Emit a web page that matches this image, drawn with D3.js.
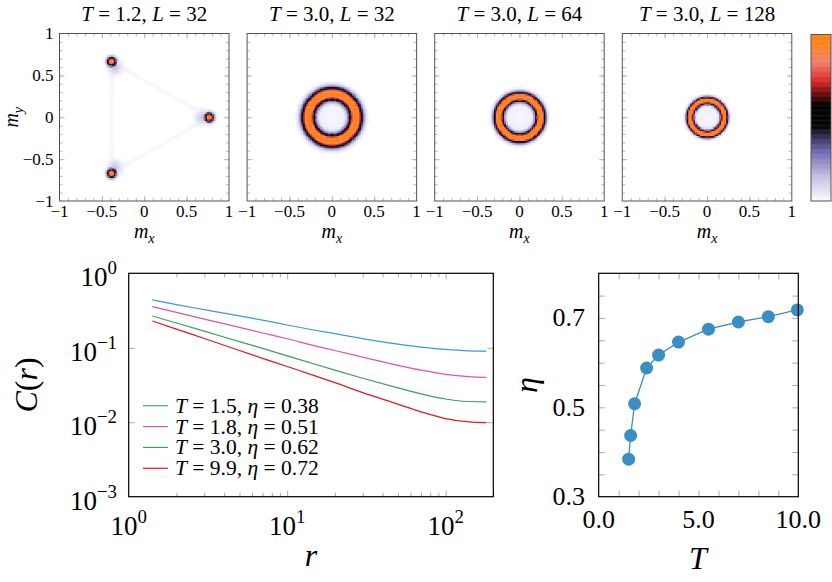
<!DOCTYPE html>
<html>
<head>
<meta charset="utf-8">
<script src="https://cdn.jsdelivr.net/npm/d3@7"></script>
</head>
<body style="margin:0">
<svg id="fig" width="832" height="582"></svg>
<script>
// ---------- data ----------
const panelTemps = ["1.2", "3.0", "3.0", "3.0"];
const panelSizes = ["32", "32", "64", "128"];
// ring panels (index 1..3): radius of the ring and its half width, in m units
const ringRadius = [0, 0.28, 0.245, 0.20];
const ringWidth = [0, 0.068, 0.05, 0.037];
// low temperature panel: three peaks
const peakX = [0.765, -0.385, -0.385];
const peakY = [0, 0.665, -0.665];
const peakWidth = 0.044;

const mTicks = [-1, -0.5, 0, 0.5, 1];

const rValues = [1.41, 2, 3, 5, 7, 10, 15, 20, 30, 50, 70, 100, 140, 181];
const corrT15 = [0.44, 0.38, 0.325, 0.268, 0.235, 0.202, 0.172, 0.155, 0.133, 0.112, 0.102, 0.095, 0.091, 0.090];
const corrT18 = [0.356, 0.298, 0.243, 0.188, 0.158, 0.132, 0.106, 0.092, 0.075, 0.058, 0.050, 0.044, 0.041, 0.040];
const corrT30 = [0.267, 0.215, 0.167, 0.121, 0.098, 0.078, 0.060, 0.050, 0.039, 0.029, 0.024, 0.0205, 0.019, 0.0188];
const corrT99 = [0.229, 0.178, 0.133, 0.092, 0.072, 0.056, 0.042, 0.034, 0.025, 0.0175, 0.0138, 0.0112, 0.0101, 0.0099];
const corrSeries = [corrT15, corrT18, corrT30, corrT99];
const legendT = ["1.5", "1.8", "3.0", "9.9"];
const legendEta = ["0.38", "0.51", "0.62", "0.72"];
const corrColors = ["#3d9ad1", "#e352a8", "#3f9f55", "#e31a1c"];
const rTicks = [1, 10, 100];
const cTicks = [1e-3, 1e-2, 1e-1, 1];

const tempValues = [1.5, 1.6, 1.8, 2.4, 3.0, 4.0, 5.5, 7.0, 8.5, 9.95];
const etaValues = [0.384, 0.437, 0.508, 0.588, 0.617, 0.646, 0.675, 0.691, 0.703, 0.718];
const tTicks = [0, 5, 10];
const etaTicks = [0.3, 0.5, 0.7];

// colour map of the histograms
const cmapStops = [0, 0.03, 0.15, 0.3, 0.38, 0.45, 0.58, 0.66, 0.72, 0.84, 0.93, 1];
const cmapColors = ["#fdfdff", "#f1f0f9", "#c4c0e0", "#7068b0", "#38345c", "#050508",
                    "#000000", "#801010", "#d82828", "#f08070", "#ff8428", "#ff8010"];
const cmap = d3.scaleLinear().domain(cmapStops).range(cmapColors).clamp(true);

const svg = d3.select("#fig");
const texts = svg.append("g").attr("id", "texts");

// a text straight on the svg, made of upright / italic / sub / sup pieces
function label(x, y, size, anchor, parts, rotate) {
    const t = svg.append("text")
        .attr("x", x).attr("y", y)
        .attr("font-size", size)
        .attr("text-anchor", anchor)
        .style("font-family", '"Liberation Serif"');
    if (rotate) t.attr("transform", `rotate(-90 ${x} ${y})`);
    parts.forEach(p => {
        const s = t.append("tspan").text(p[0]);
        if (p[1] === "i") s.attr("font-style", "italic");
        if (p[1] === "sub") s.attr("font-style", "italic").attr("font-size", size * 0.7).attr("dy", size * 0.25);
        if (p[1] === "sup") s.attr("font-size", size * 0.7).attr("dy", -size * 0.45);
    });
    return t;
}

// inward ticks on all four sides
function frameTicks(g, x, y, xv, yv, len, color) {
    const [x0, x1] = x.range(), [y0, y1] = y.range();
    const mk = (axis, tx, ty) => {
        const a = g.append("g").attr("transform", `translate(${tx},${ty})`).call(axis);
        a.select(".domain").remove();
        a.selectAll("text").remove();
        a.selectAll("line").attr("stroke", color).attr("stroke-width", 1);
    };
    if (xv.length) {
        mk(d3.axisTop(x).tickValues(xv).tickSize(len), 0, y0);
        mk(d3.axisBottom(x).tickValues(xv).tickSize(len), 0, y1);
    }
    if (yv.length) {
        mk(d3.axisRight(y).tickValues(yv).tickSize(len), x0, 0);
        mk(d3.axisLeft(y).tickValues(yv).tickSize(len), x1, 0);
    }
}

// ---------- top row: histograms ----------
function segDist(px, py, ax, ay, bx, by) {
    const dx = bx - ax, dy = by - ay;
    let t = ((px - ax) * dx + (py - ay) * dy) / (dx * dx + dy * dy);
    t = Math.max(0, Math.min(1, t));
    const len = Math.hypot(dx, dy);
    return { d: Math.hypot(px - ax - t * dx, py - ay - t * dy), s: Math.min(t, 1 - t) * len };
}

function profile(d, w) {
    return Math.exp(-Math.LN2 * Math.pow(d / w, 2.3));
}

function density(p, mx, my) {
    if (p > 0) {
        const r = Math.hypot(mx, my);
        const d = Math.abs(r - ringRadius[p]);
        let v = profile(d, ringWidth[p]);
        if (r < ringRadius[p]) v = Math.max(v, 0.045 * (0.3 + 0.7 * r / ringRadius[p]));
        return v;
    }
    let v = 0;
    for (let k = 0; k < 3; k++) {
        const d = Math.hypot(mx - peakX[k], my - peakY[k]);
        v = Math.max(v, profile(d, peakWidth));
        // soft halo towards the centre
        const dc = Math.hypot(mx - peakX[k] * 0.9, my - peakY[k] * 0.9);
        v = Math.max(v, 0.14 * Math.exp(-Math.pow(dc / 0.075, 2)));
        const n = (k + 1) % 3;
        const sd = segDist(mx, my, peakX[k], peakY[k], peakX[n], peakY[n]);
        v = Math.max(v, Math.exp(-Math.pow(sd.d / 0.03, 2)) * (0.015 + 0.12 * Math.exp(-sd.s / 0.08)));
    }
    return v;
}

const nBins = 100;
const binW = 2 / nBins;
const binStarts = d3.range(nBins).map(i => -1 + i * binW);

const panelW = 169.5, panelTop = 33.5, panelH = 167.5;
const panelLeft = d3.range(4).map(i => 59.5 + i * 187.6);
const minorM = d3.range(-9, 10).map(i => i / 10);
const fmtM = d3.format("~g");

panelLeft.forEach((left, p) => {
    const x = d3.scaleLinear().domain([-1, 1]).range([left, left + panelW]);
    const y = d3.scaleLinear().domain([-1, 1]).range([panelTop + panelH, panelTop]);
    const g = svg.append("g");

    const cells = [];
    binStarts.forEach(bx => binStarts.forEach(by => {
        const v = density(p, bx + binW / 2, by + binW / 2);
        if (v > 0.008) cells.push({ x0: bx, y0: by, v: Math.round(v * 120) / 120 });
    }));
    // one path per colour level keeps the page light
    const levels = d3.groups(cells, d => d.v);
    const cw = x(binW) - x(0) + 0.4, ch = y(0) - y(binW) + 0.4;
    g.append("g").selectAll("path").data(levels).join("path")
        .attr("d", ([, cs]) => cs.map(d => `M${x(d.x0).toFixed(2)},${y(d.y0 + binW).toFixed(2)}h${cw.toFixed(2)}v${ch.toFixed(2)}h${(-cw).toFixed(2)}z`).join(""))
        .attr("fill", ([v]) => cmap(v));

    frameTicks(g, x, y, minorM, minorM, 3, "#b8b8b8");
    frameTicks(g, x, y, [-0.5, 0, 0.5], [-0.5, 0, 0.5], 5, "#b8b8b8");
    g.append("rect").attr("x", left).attr("y", panelTop).attr("width", panelW).attr("height", panelH)
        .attr("fill", "none").attr("stroke", "#555").attr("stroke-width", 1);

    mTicks.forEach(v => label(x(v), 217, 17, "middle", [[fmtM(v)]]));
    if (p === 0) {
        mTicks.forEach(v => label(left - 6, y(v) + 5.5, 17, "end", [[fmtM(v)]]));
        label(18, panelTop + panelH / 2, 20, "middle", [["m", "i"], ["y", "sub"]], true);
    }
    label(left + panelW / 2, 238, 20, "middle", [["m", "i"], ["x", "sub"]]);
    label(left + panelW / 2, 20.5, 21, "middle",
        [["T", "i"], [" = " + panelTemps[p] + ", "], ["L", "i"], [" = " + panelSizes[p]]]);
});

// colour bar
const cbY = d3.scaleLinear().domain([0, 1]).range([201, 34.5]);
const cbSteps = d3.range(0, 1, 0.005);
svg.append("g").selectAll("rect").data(cbSteps).join("rect")
    .attr("x", 811).attr("width", 20)
    .attr("y", d => cbY(d + 0.005)).attr("height", cbY(0) - cbY(0.005) + 0.5)
    .attr("fill", d => cmap(d + 0.0025));
svg.append("rect").attr("x", 811).attr("y", 34.5).attr("width", 20).attr("height", 166.5)
    .attr("fill", "none").attr("stroke", "#555");

// ---------- bottom left: correlation functions ----------
const xr = d3.scaleLog().domain([1, 200]).range([128.7, 493.3]);
const yc = d3.scaleLog().domain([1e-3, 1]).range([496.7, 273.3]);
const gc = svg.append("g");

const minorR = [2, 3, 4, 5, 6, 7, 8, 9, 20, 30, 40, 50, 60, 70, 80, 90, 200];
frameTicks(gc, xr, yc, minorR, [], 4, "#a8a8a8");
frameTicks(gc, xr, yc, [10, 100], [1e-2, 1e-1], 6, "#a8a8a8");

const line = d3.line().x(d => xr(d[0])).y(d => yc(d[1])).curve(d3.curveMonotoneX);
corrSeries.forEach((s, i) => {
    gc.append("path").datum(rValues.map((r, k) => [r, s[k]]))
        .attr("d", line).attr("fill", "none").attr("stroke", corrColors[i]).attr("stroke-width", 1.2);
});

gc.append("rect").attr("x", 128.7).attr("y", 273.3).attr("width", 493.3 - 128.7).attr("height", 496.7 - 273.3)
    .attr("fill", "none").attr("stroke", "#000").attr("stroke-width", 1.2);

const expo = v => { const e = Math.round(Math.log10(v)); return e < 0 ? "\u2212" + (-e) : String(e); };
rTicks.forEach(v => label(xr(v), 535, 27, "middle", [["10"], [expo(v), "sup"]]));
cTicks.forEach(v => label(117, yc(v) + 13, 27, "end", [["10"], [expo(v), "sup"]]));

label(311, 566, 32, "middle", [["r", "i"]]);
label(37, 385, 32, "middle", [["C", "i"], ["("], ["r", "i"], [")"]], true);

// legend
const legY = d3.scalePoint().domain(d3.range(4)).range([405.7, 468.3]);
legendT.forEach((t, i) => {
    gc.append("line").attr("x1", 143).attr("x2", 168).attr("y1", legY(i)).attr("y2", legY(i))
        .attr("stroke", corrColors[i]).attr("stroke-width", 1.2);
    label(175, legY(i) + 7, 21.5, "start",
        [["T", "i"], [" = " + t + ", "], ["η", "i"], [" = " + legendEta[i]]]);
});

// ---------- bottom right: eta vs T ----------
const xt = d3.scaleLinear().domain([0, 10]).range([598.7, 798.3]);
const ye = d3.scaleLinear().domain([0.3, 0.8]).range([496.7, 273.3]);
const ge = svg.append("g");

frameTicks(ge, xt, ye, d3.range(1, 10), d3.range(0.35, 0.8, 0.05), 6, "#a8a8a8");

ge.append("path").datum(tempValues.map((t, k) => [t, etaValues[k]]))
    .attr("d", d3.line().x(d => xt(d[0])).y(d => ye(d[1])))
    .attr("fill", "none").attr("stroke", "#3a8ec3").attr("stroke-width", 1.3);
ge.selectAll("circle").data(tempValues).join("circle")
    .attr("cx", d => xt(d)).attr("cy", (d, k) => ye(etaValues[k])).attr("r", 6.5)
    .attr("fill", "#3a8ec3");

ge.append("rect").attr("x", 598.7).attr("y", 273.3).attr("width", 798.3 - 598.7).attr("height", 496.7 - 273.3)
    .attr("fill", "none").attr("stroke", "#000").attr("stroke-width", 1.2);

const fmt1 = d3.format(".1f");
tTicks.forEach(v => label(xt(v), 528, 26, "middle", [[fmt1(v)]]));
etaTicks.forEach(v => label(585, ye(v) + 8.5, 26, "end", [[fmt1(v)]]));

label(698, 569, 32, "middle", [["T", "i"]]);
label(537, 385, 32, "middle", [["η", "i"]], true);
</script>
</body>
</html>
